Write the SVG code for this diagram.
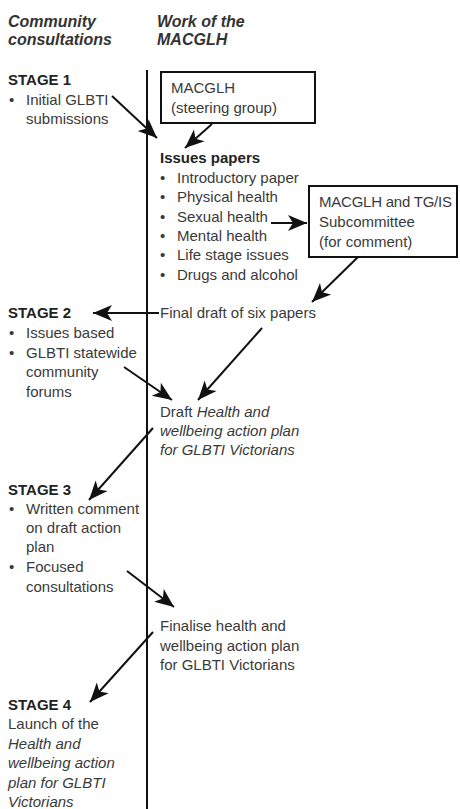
<svg xmlns="http://www.w3.org/2000/svg" width="460" height="809" viewBox="0 0 460 809">
<defs>
<style>
text{font-family:"Liberation Sans",Arial,sans-serif;font-size:15px;fill:#3a3a3a}
.h{font-style:italic;font-weight:bold;font-size:16px;fill:#333}
.b{font-weight:bold;fill:#222}
.i{font-style:italic}
.box{fill:#fff;stroke:#111;stroke-width:2}
.c{stroke:#111;stroke-width:2;fill:none;marker-end:url(#ah)}
</style>
<marker id="ah" viewBox="-20 -9 21 18" markerWidth="21" markerHeight="18" refX="0" refY="0" orient="auto" markerUnits="userSpaceOnUse">
<path d="M0,0 L-19,-8 L-14,0 L-19,8 Z" fill="#111"/>
</marker>
</defs>
<g id="headers">
<text class="h" x="8" y="27">Community</text>
<text class="h" x="8" y="45">consultations</text>
<text class="h" x="157" y="27">Work of the</text>
<text class="h" x="157" y="45">MACGLH</text>
</g>
<line id="timeline" x1="147" y1="70" x2="147" y2="809" stroke="#111" stroke-width="2"/>
<g id="stage1">
<text class="b" x="8" y="85">STAGE 1</text>
<text x="9" y="105">•</text><text x="26" y="105">Initial GLBTI</text>
<text x="26" y="124">submissions</text>
</g>
<g id="steering">
<rect class="box" x="161" y="72" width="154" height="51"/>
<text x="171" y="93">MACGLH</text>
<text x="171" y="113">(steering group)</text>
</g>
<g id="issues">
<text class="b" x="160" y="163">Issues papers</text>
<text x="160" y="183">•</text><text x="177" y="183">Introductory paper</text>
<text x="160" y="202">•</text><text x="177" y="202">Physical health</text>
<text x="160" y="222">•</text><text x="177" y="222">Sexual health</text>
<text x="160" y="241">•</text><text x="177" y="241">Mental health</text>
<text x="160" y="260">•</text><text x="177" y="260">Life stage issues</text>
<text x="160" y="280">•</text><text x="177" y="280">Drugs and alcohol</text>
</g>
<g id="subcommittee">
<rect class="box" x="309" y="186" width="148" height="71"/>
<text x="319" y="207" textLength="133" lengthAdjust="spacing">MACGLH and TG/IS</text>
<text x="319" y="227">Subcommittee</text>
<text x="319" y="247">(for comment)</text>
</g>
<g id="finaldraft">
<text x="160" y="318">Final draft of six papers</text>
</g>
<g id="stage2">
<text class="b" x="8" y="318">STAGE 2</text>
<text x="9" y="338">•</text><text x="26" y="338">Issues based</text>
<text x="9" y="358">•</text><text x="26" y="358">GLBTI statewide</text>
<text x="26" y="377">community</text>
<text x="26" y="397">forums</text>
</g>
<g id="draftplan">
<text x="160" y="417">Draft <tspan class="i">Health and</tspan></text>
<text class="i" x="160" y="436">wellbeing action plan</text>
<text class="i" x="160" y="455">for GLBTI Victorians</text>
</g>
<g id="stage3">
<text class="b" x="8" y="495">STAGE 3</text>
<text x="9" y="514">•</text><text x="26" y="514">Written comment</text>
<text x="26" y="533">on draft action</text>
<text x="26" y="552">plan</text>
<text x="9" y="572">•</text><text x="26" y="572">Focused</text>
<text x="26" y="592">consultations</text>
</g>
<g id="finalise">
<text x="160" y="631">Finalise health and</text>
<text x="160" y="651">wellbeing action plan</text>
<text x="160" y="670">for GLBTI Victorians</text>
</g>
<g id="stage4">
<text class="b" x="8" y="710">STAGE 4</text>
<text x="8" y="729">Launch of the</text>
<text class="i" x="8" y="749">Health and</text>
<text class="i" x="8" y="768">wellbeing action</text>
<text class="i" x="8" y="788">plan for GLBTI</text>
<text class="i" x="8" y="807">Victorians</text>
</g>
<g id="connectors">
<line class="c" x1="112" y1="96" x2="157" y2="138"/>
<line class="c" x1="212" y1="124" x2="185" y2="148"/>
<line class="c" x1="271" y1="223" x2="307" y2="223"/>
<line class="c" x1="358" y1="257" x2="312" y2="302"/>
<line class="c" x1="159" y1="313" x2="93" y2="313"/>
<line class="c" x1="262" y1="328" x2="198" y2="400"/>
<line class="c" x1="124" y1="367" x2="172" y2="400"/>
<line class="c" x1="153" y1="428" x2="89" y2="500"/>
<line class="c" x1="127" y1="571" x2="174" y2="607"/>
<line class="c" x1="153" y1="632" x2="90" y2="702"/>
</g>
</svg>
